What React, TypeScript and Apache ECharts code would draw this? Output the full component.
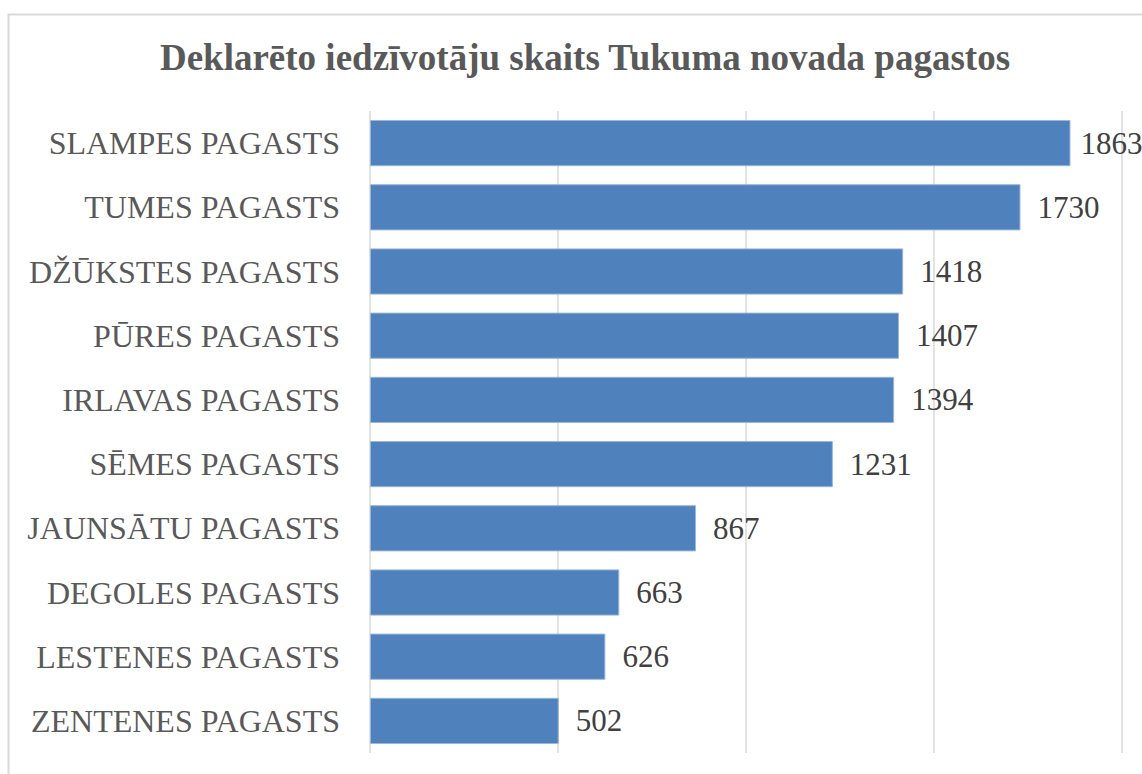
import React, { useEffect, useRef } from "react";
import * as echarts from "echarts";

const titleText = "Deklarēto iedzīvotāju skaits Tukuma novada pagastos";
const categories = [
  "SLAMPES PAGASTS",
  "TUMES PAGASTS",
  "DŽŪKSTES PAGASTS",
  "PŪRES PAGASTS",
  "IRLAVAS PAGASTS",
  "SĒMES PAGASTS",
  "JAUNSĀTU PAGASTS",
  "DEGOLES PAGASTS",
  "LESTENES PAGASTS",
  "ZENTENES PAGASTS",
];
const values = [1863, 1730, 1418, 1407, 1394, 1231, 867, 663, 626, 502];
const axisMin = 0;
const axisMax = 2000;
const axisStep = 500;

const FONT = "'Liberation Serif', 'Times New Roman', serif";

export default function App() {
  const ref = useRef<HTMLDivElement>(null);
  useEffect(() => {
    if (!ref.current) return;
    const chart = echarts.init(ref.current, null, { renderer: "svg" });
    chart.setOption({
      animation: false,
      backgroundColor: "#ffffff",
      title: {
        text: titleText,
        left: 580,
        top: 34,
        textAlign: "center",
        textStyle: {
          fontFamily: FONT,
          fontSize: 37,
          fontWeight: "bold",
          color: "#595959",
        },
      },
      graphic: [
        {
          type: "rect",
          shape: { x: 8.5, y: 14.5, width: 1150, height: 800 },
          style: { fill: "none", stroke: "#d9d9d9", lineWidth: 2 },
          silent: true,
          z: 0,
        },
      ],
      grid: { left: 370, right: 20, top: 111, bottom: 21, containLabel: false },
      xAxis: {
        type: "value",
        min: axisMin,
        max: axisMax,
        interval: axisStep,
        axisLabel: { show: false },
        axisTick: { show: false },
        axisLine: { show: false },
        splitLine: { show: true, lineStyle: { color: "#d9d9d9", width: 1.5 } },
      },
      yAxis: {
        type: "category",
        data: categories,
        inverse: true,
        axisLine: { show: false },
        axisTick: { show: false },
        axisLabel: {
          margin: 30,
          fontFamily: FONT,
          fontSize: 32,
          color: "#595959",
        },
      },
      series: [
        {
          type: "bar",
          data: values.map((v, i) =>
            i === 0 ? { value: v, label: { distance: 10 } } : { value: v }
          ),
          barCategoryGap: "28%",
          itemStyle: {
            color: "#4f81bd",
            borderColor: "#9ab7dc",
            borderWidth: 1,
          },
          label: {
            show: true,
            position: "right",
            distance: 17,
            fontFamily: FONT,
            fontSize: 31,
            color: "#404040",
          },
        },
      ],
    });
    return () => chart.dispose();
  }, []);
  return (
    <div
      ref={ref}
      style={{ position: "fixed", left: 0, top: 0, width: 1142, height: 774 }}
    />
  );
}
